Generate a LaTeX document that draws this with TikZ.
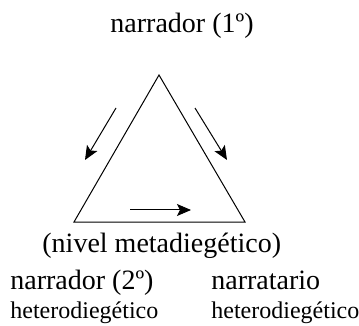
\documentclass[tikz,border=0pt]{standalone}
\usepackage{fontspec}
\setmainfont{Liberation Serif}
\usetikzlibrary{arrows.meta,positioning}
\tikzset{
  biglabel/.style   ={font=\rmfamily\fontsize{14}{16}\selectfont,inner sep=0pt},
  smalllabel/.style ={font=\rmfamily\fontsize{12}{14}\selectfont,inner sep=0pt},
  sideline/.style   ={line width=0.5pt,line join=miter},
  flow/.style       ={-{Stealth[length=7pt,width=6pt,inset=1.5pt]},line width=0.5pt},
}
\begin{document}
\begin{tikzpicture}[x=0.5pt,y=-0.5pt]
\useasboundingbox (0,0) rectangle (359,326);
% triangle
\coordinate (apex) at (159,75);
\coordinate (bl) at (74,222);
\coordinate (br) at (245,222);
\draw[sideline] (apex) -- (bl) -- (br) -- cycle;
% arrows
\coordinate (la) at (116,108); \coordinate (lb) at (85,160);
\coordinate (ra) at (195,108); \coordinate (rb) at (227,160);
\coordinate (ba) at (130,210); \coordinate (bb) at (191,210);
\foreach \s/\e in {la/lb,ra/rb,ba/bb} \draw[flow] (\s) -- (\e);
% labels
\node[biglabel,anchor=base] (first) at (182,33) {narrador (1º)};
\node[biglabel,anchor=base west] (level) at (42,252) {(nivel metadiegético)};
\node[biglabel,anchor=base west] (second) at (10,289) {narrador (2º)};
\node[biglabel,anchor=base west] (narratee) at (211,289) {narratario};
\node[smalllabel,anchor=base west] (secondkind) at (10,318) {heterodiegético};
\node[smalllabel,anchor=base west] (narrateekind) at (211,318) {heterodiegético};
\end{tikzpicture}
\end{document}
